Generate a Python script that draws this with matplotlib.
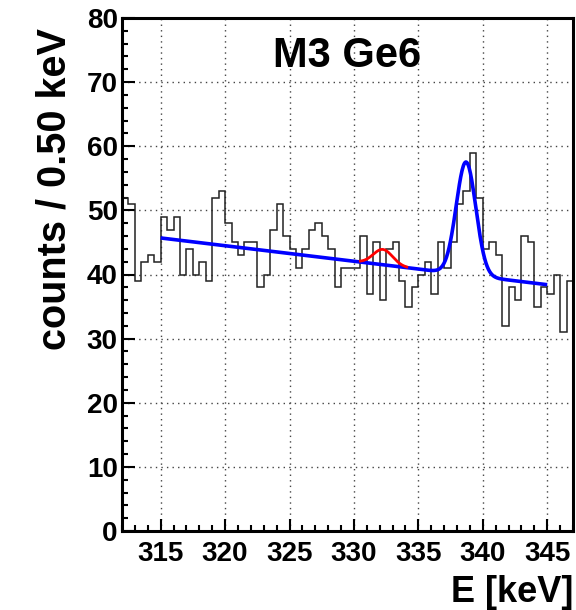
import numpy as np
import matplotlib
matplotlib.use("Agg")
import matplotlib.pyplot as plt
from matplotlib.ticker import MultipleLocator

plt.rcParams['font.family'] = ['Liberation Sans', 'DejaVu Sans']
plt.rcParams['font.weight'] = 'bold'

# histogram: 0.5 keV bins from 312 to 347 keV
binLow = 312.0
binWidth = 0.5
counts = [52, 51, 39, 42, 43, 42, 49, 47, 49, 40,
          44, 40, 42, 39, 52, 53, 48, 45, 43, 45,
          45, 38, 40, 47, 51, 46, 44, 41, 44, 47,
          48, 46, 44, 38, 41, 41, 41, 46, 37, 45,
          36, 44, 45, 39, 35, 38, 40, 42, 37, 45,
          41, 45, 51, 53, 59, 52, 44, 45, 43, 32,
          38, 36, 46, 45, 35, 38, 37, 40, 31, 39]

# fit parameters (linear background + gaussian)
bgAt315 = 45.7
bgSlope = -0.243
fitRange = (315.0, 345.0)
peakMean = 338.7
peakAmp = 17.6
peakSigma = 0.76
redMean = 332.25
redAmp = 2.4
redSigma = 0.75
redRange = (330.5, 334.1)


def background(e):
    return bgAt315 + bgSlope * (e - 315.0)


def gauss(e, amp, mean, sigma):
    return amp * np.exp(-0.5 * ((e - mean) / sigma) ** 2)


fig = plt.figure(figsize=(5.76, 6.10), dpi=100)
ax = fig.add_axes([122 / 576, 79 / 610, 451 / 576, 513 / 610])

edges = binLow + binWidth * np.arange(len(counts) + 1)
ax.stairs(counts, edges, baseline=None, color='#222222', linewidth=1.1)

# blue: full fit
xb = np.linspace(fitRange[0], fitRange[1], 600)
ax.plot(xb, background(xb) + gauss(xb, peakAmp, peakMean, peakSigma),
        color='#0000ff', linewidth=2.6, solid_capstyle='butt')

# red: small gaussian on background
xr = np.linspace(redRange[0], redRange[1], 200)
ax.plot(xr, background(xr) + gauss(xr, redAmp, redMean, redSigma),
        color='#ff0000', linewidth=2.0)

ax.set_xlim(312, 347)
ax.set_ylim(0, 80)

ax.xaxis.set_major_locator(MultipleLocator(5))
ax.xaxis.set_minor_locator(MultipleLocator(1))
ax.yaxis.set_major_locator(MultipleLocator(10))
ax.yaxis.set_minor_locator(MultipleLocator(2))

ax.tick_params(which='both', direction='in', top=False, right=False,
               labelsize=20, width=1.5)
ax.tick_params(which='major', length=9)
ax.tick_params(which='minor', length=4.5)
ax.tick_params(axis='x', which='major', pad=7)
ax.tick_params(axis='y', which='major', pad=3)
for lab in ax.get_xticklabels() + ax.get_yticklabels():
    lab.set_fontweight('bold')

ax.grid(True, which='major', linestyle=(0, (1, 3)), color='#444444',
        linewidth=1.0)
ax.set_axisbelow(True)

for side in ['left', 'bottom', 'top', 'right']:
    ax.spines[side].set_linewidth(2.2)

ax.text(0.5, 0.925, 'M3 Ge6', transform=ax.transAxes, ha='center',
        va='center', fontsize=30, fontweight='bold')

fig.text(55 / 576, 1 - 28 / 610, 'counts / 0.50 keV', rotation=90,
         ha='center', va='top', fontsize=28.5, fontweight='bold')
fig.text(573 / 576, 1 - 592 / 610, 'E [keV]', ha='right', va='center',
         fontsize=26, fontweight='bold')

fig.savefig('out.png', dpi=100)
